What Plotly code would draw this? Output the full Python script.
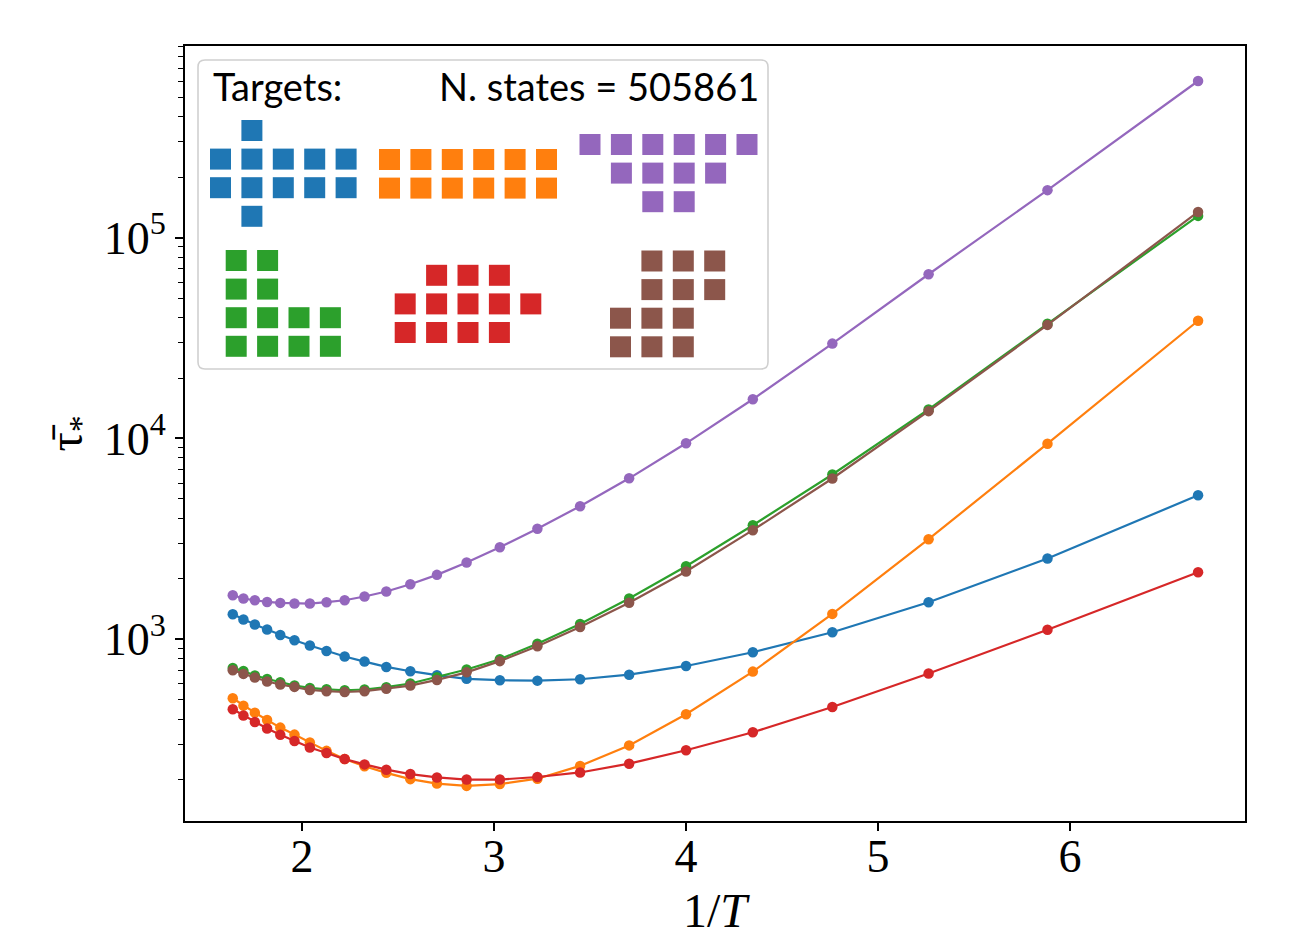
import plotly.graph_objects as go

# ---------------- data ----------------
temperatures = [0.61, 0.59, 0.57, 0.55, 0.53, 0.51, 0.49, 0.47, 0.45, 0.43, 0.41, 0.39,
                0.37, 0.35, 0.33, 0.31, 0.29, 0.27, 0.25, 0.23, 0.21, 0.19, 0.17, 0.15]

tau_blue = [1332, 1254, 1184, 1118, 1050, 989, 930, 874, 820, 774, 728, 693,
            662, 635, 625, 622, 632, 666, 736, 861, 1084, 1529, 2523, 5212]
tau_orange = [508, 467, 431, 396, 363, 335, 306, 278, 253, 233, 216, 201,
              191, 186, 190, 202, 234, 296, 423, 690, 1337, 3150, 9419, 38580]
tau_green = [720, 695, 660, 634, 611, 588, 572, 563, 557, 562, 577, 602,
             647, 707, 795, 950, 1192, 1594, 2311, 3698, 6616, 13950, 37240, 128400]
tau_red = [448, 417, 387, 359, 334, 311, 289, 271, 253, 238, 224, 213,
           205, 200, 200, 206, 217, 240, 280, 344, 460, 675, 1115, 2157]
tau_purple = [1656, 1595, 1564, 1534, 1517, 1506, 1506, 1529, 1564, 1632, 1729, 1879,
              2092, 2411, 2873, 3553, 4600, 6330, 9460, 15670, 29680, 65750, 172500, 603000]
tau_brown = [701, 672, 645, 616, 595, 579, 559, 551, 546, 551, 566, 588,
             627, 684, 778, 923, 1150, 1520, 2175, 3493, 6320, 13680, 36780, 134300]

# target shapes (polyominoes shown in the legend box), X = occupied cell
target_blue = [".X...", "XXXXX", "XXXXX", ".X..."]
target_orange = ["XXXXXX", "XXXXXX"]
target_purple = ["XXXXXX", ".XXXX.", "..XX.."]
target_green = ["XX..", "XX..", "XXXX", "XXXX"]
target_red = [".XXX.", "XXXXX", "XXXX."]
target_brown = [".XXX", ".XXX", "XXX.", "XXX."]

n_states = 505861
x_ticks = [2, 3, 4, 5, 6]
y_ticks = [1e3, 1e4, 1e5]
y_ticktext = ["10<sup>3</sup>", "10<sup>4</sup>", "10<sup>5</sup>"]

C_BLUE, C_ORANGE, C_GREEN = "#1f77b4", "#ff7f0e", "#2ca02c"
C_RED, C_PURPLE, C_BROWN = "#d62728", "#9467bd", "#8c564b"

inv_T = [1.0 / t for t in temperatures]

series = [(tau_blue, C_BLUE), (tau_orange, C_ORANGE), (tau_green, C_GREEN),
          (tau_red, C_RED), (tau_purple, C_PURPLE), (tau_brown, C_BROWN)]

fig = go.Figure()
for vals, col in series:
    fig.add_trace(go.Scatter(
        x=inv_T, y=vals, mode="lines+markers",
        line=dict(color=col, width=2.2),
        marker=dict(color=col, size=10.5, line=dict(width=0)),
        showlegend=False, hoverinfo="skip"))

# ---------------- layout geometry ----------------
W, H = 1303, 937
L, R, T, B = 185, 58, 46, 116
PW, PH = W - L - R, H - T - B


def px(xp):
    return (xp - L) / PW


def py(yp):
    return 1 - (yp - T) / PH


shapes = []
# legend frame with rounded corners
x0, y0, x1, y1, rr = 198, 60, 768, 369, 7
path = (f"M {px(x0+rr)},{py(y0)} L {px(x1-rr)},{py(y0)} Q {px(x1)},{py(y0)} {px(x1)},{py(y0+rr)} "
        f"L {px(x1)},{py(y1-rr)} Q {px(x1)},{py(y1)} {px(x1-rr)},{py(y1)} "
        f"L {px(x0+rr)},{py(y1)} Q {px(x0)},{py(y1)} {px(x0)},{py(y1-rr)} "
        f"L {px(x0)},{py(y0+rr)} Q {px(x0)},{py(y0)} {px(x0+rr)},{py(y0)} Z")
shapes.append(dict(type="path", path=path, xref="paper", yref="paper",
                   fillcolor="rgba(255,255,255,0.8)", line=dict(color="#d0d0d0", width=1.6),
                   layer="above"))

DX, DY, SQ = 31.4, 28.6, 21


def add_target(rows, col, ox, oy):
    for r, row in enumerate(rows):
        for c, ch in enumerate(row):
            if ch == "X":
                cx = ox + c * DX
                cy = oy + r * DY
                shapes.append(dict(type="rect", xref="paper", yref="paper",
                                   x0=px(cx - SQ / 2), x1=px(cx + SQ / 2),
                                   y0=py(cy + SQ / 2), y1=py(cy - SQ / 2),
                                   fillcolor=col, line=dict(width=0), layer="above"))


add_target(target_blue, C_BLUE, 220.5, 130.5)
add_target(target_orange, C_ORANGE, 389.5, 159.5)
add_target(target_purple, C_PURPLE, 590.0, 144.5)
add_target(target_green, C_GREEN, 236.2, 260.5)
add_target(target_red, C_RED, 405.2, 275.3)
add_target(target_brown, C_BROWN, 620.5, 261.0)

annotations = [
    dict(text="Targets:", xref="paper", yref="paper", x=px(211), y=py(86),
         xanchor="left", yanchor="middle", showarrow=False,
         font=dict(family="Lato", size=38, color="black")),
    dict(text=f"N. states = {n_states}", xref="paper", yref="paper", x=px(761), y=py(86),
         xanchor="right", yanchor="middle", showarrow=False,
         font=dict(family="Lato", size=38, color="black")),
]

minor_vals = [k * 10 ** e for e in range(2, 6) for k in range(2, 10)]

fig.update_layout(
    width=W, height=H,
    margin=dict(l=L, r=R, t=T, b=B, pad=0, autoexpand=False),
    paper_bgcolor="white", plot_bgcolor="white",
    shapes=shapes, annotations=annotations,
    font=dict(family="Liberation Serif", color="black"),
    xaxis=dict(range=[1.3906, 6.911], tickvals=x_ticks, ticks="outside", ticklen=8,
               tickwidth=1.8, tickcolor="black", showline=True, linecolor="black",
               linewidth=2, mirror=True, showgrid=False, zeroline=False, automargin=False,
               ticklabelstandoff=-14,
               tickfont=dict(family="Liberation Serif", size=46),
               title=dict(text="1/<i>T</i>", font=dict(family="Liberation Serif", size=48),
                          standoff=13)),
    yaxis=dict(type="log", range=[2.0947, 5.9547], tickvals=y_ticks, ticktext=y_ticktext,
               ticks="outside", ticklen=8, tickwidth=1.8, tickcolor="black",
               showline=True, linecolor="black", linewidth=2, mirror=True,
               showgrid=False, zeroline=False, automargin=False,
               tickfont=dict(family="Liberation Serif", size=46),
               minor=dict(tickvals=minor_vals, ticks="outside", ticklen=5, tickwidth=1.3,
                          tickcolor="black", showgrid=False),
               title=dict(text="τ̄<sub>*</sub>", font=dict(family="Liberation Serif", size=48),
                          standoff=6)),
)

fig.write_html("out.html")
